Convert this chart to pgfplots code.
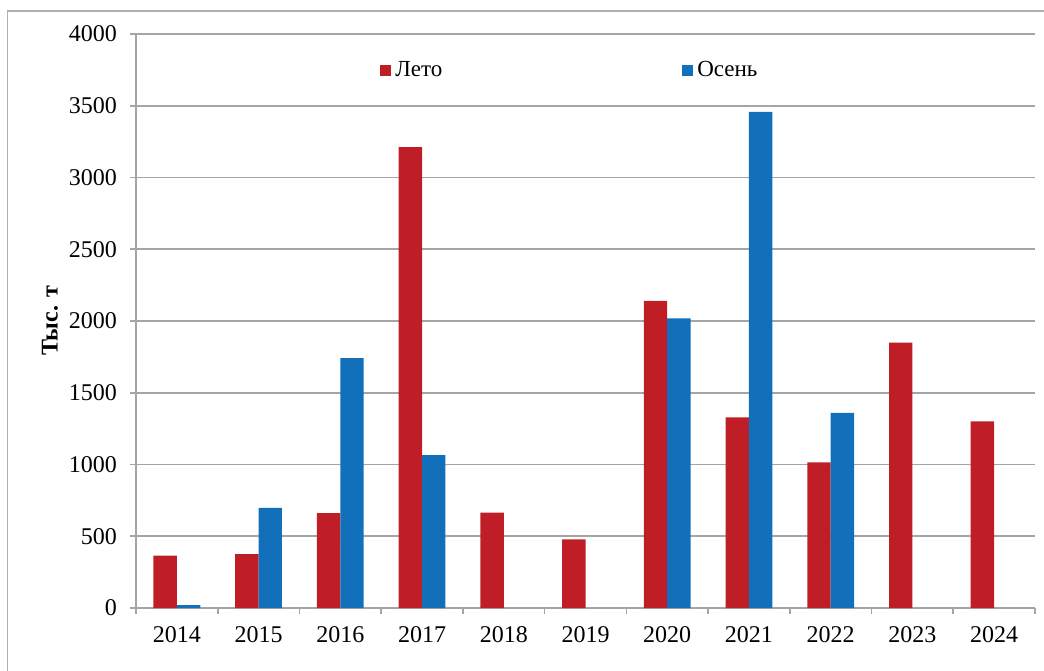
\documentclass[border=0pt]{standalone}
\usepackage{fontspec}
\setmainfont{Liberation Serif}
\usepackage{pgfplots}
\pgfplotsset{compat=1.18}
\definecolor{leto}{RGB}{192,30,38}
\definecolor{osen}{RGB}{18,112,186}
\definecolor{gridc}{RGB}{165,165,165}
\begin{document}
\begin{tikzpicture}
\useasboundingbox (0,0) rectangle (522pt,335pt);
\draw[color={rgb,255:red,175;green,175;blue,175}, line width=0.6pt] (3.75pt,-2pt) -- (3.75pt,329.5pt) -- (525pt,329.5pt);
\begin{axis}[
  at={(68pt,31pt)}, anchor=south west,
  scale only axis, width=449.5pt, height=287pt,
  xmin=-0.5, xmax=10.5, ymin=0, ymax=4000,
  axis x line*=bottom, axis y line*=left,
  axis line style={gridc, line width=0.8pt},
  ytick={0,500,...,4000},
  ymajorgrids, grid style={gridc, line width=0.8pt},
  tick align=outside, major tick length=3pt,
  tick style={gridc, line width=0.8pt},
  xtick={-0.5,0.5,...,10.5}, xticklabels={},
  extra x ticks={0,1,2,3,4,5,6,7,8,9,10},
  extra x tick labels={2014,2015,2016,2017,2018,2019,2020,2021,2022,2023,2024},
  extra x tick style={major tick length=0pt, grid=none, xticklabel style={yshift=-5.5pt}},
  ticklabel style={font=\fontsize{12}{14}\selectfont},
  /pgf/number format/assume math mode=true,
  yticklabel style={xshift=-3pt, /pgf/number format/.cd, fixed, 1000 sep={}},
  scaled y ticks=false,
  ylabel={\textbf{Тыс. т}},
  every axis y label/.style={at={(rel axis cs:-0.0957,0.5)}, rotate=90, anchor=center, font=\fontsize{12}{14}\selectfont},
  ybar, bar width=11.7pt,
  legend columns=2,
  legend style={draw=none, fill=none, at={(rel axis cs:0.2714,0.937)}, anchor=west, inner sep=0pt,
    font=\fontsize{11.5}{13}\selectfont,
    /tikz/every even column/.append style={column sep=118pt}},
  legend image code/.code={\fill[#1] (0pt,-2.75pt) rectangle (5.5pt,2.75pt);},
]
\addplot[fill=leto, draw=none, bar shift=-5.85pt] coordinates {
 (0,365) (1,376) (2,662) (3,3212) (4,665) (5,479) (6,2141) (7,1328) (8,1015) (9,1850) (10,1301)};
\addlegendentry{Лето}
\addplot[fill=osen, draw=none, bar shift=5.85pt] coordinates {
 (0,20) (1,697) (2,1742) (3,1066) (6,2019) (7,3458) (8,1359)};
\addlegendentry{Осень}
\end{axis}
\end{tikzpicture}
\end{document}
